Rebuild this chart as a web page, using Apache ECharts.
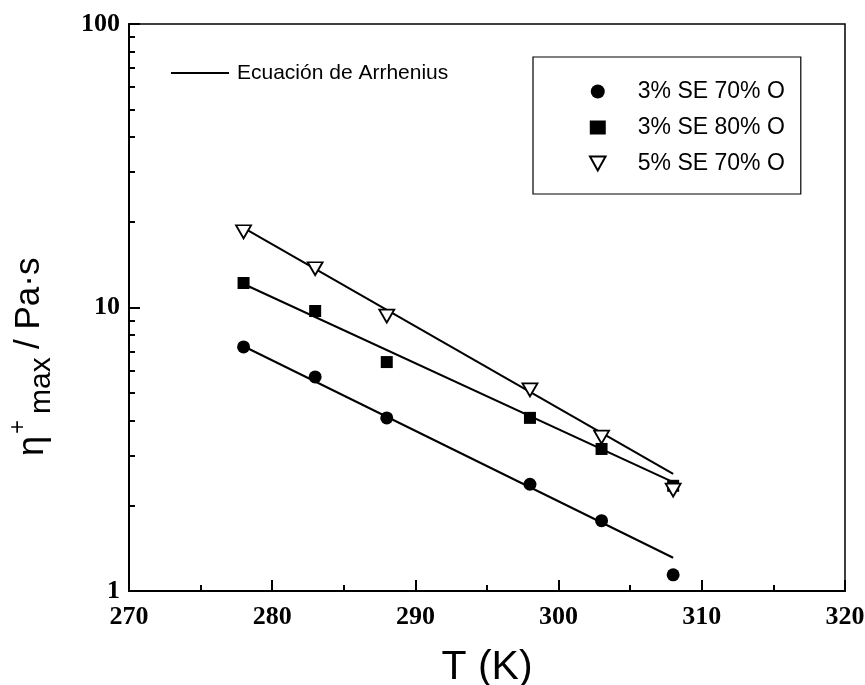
<!DOCTYPE html>
<html>
<head>
<meta charset="utf-8">
<script src="https://cdn.jsdelivr.net/npm/echarts@6/dist/echarts.min.js"></script>
<style>
  html, body { margin: 0; padding: 0; background: #fff; }
  #chart { width: 865px; height: 685px; }
</style>
</head>
<body>
<div id="chart"></div>
<script>
// temperatures (K) and maximum viscosity values (Pa·s)
var temps = [278, 283, 288, 298, 303, 308];
var eta3se70 = [7.26, 5.69, 4.08, 2.38, 1.77, 1.14];
var eta3se80 = [12.2, 9.72, 6.42, 4.08, 3.17, 2.35];
var eta5se70 = [18.5, 13.7, 9.33, 5.12, 3.49, 2.27];

// Arrhenius fit lines, end points
var fitT = [278, 308];
var fit3se70 = [7.3, 1.31];
var fit3se80 = [12.1, 2.42];
var fit5se70 = [19.1, 2.59];

var names = ['3% SE 70% O', '3% SE 80% O', '5% SE 70% O'];
var fitName = 'Ecuación de Arrhenius';
var minorLogTicks = [2, 3, 4, 5, 6, 7, 8, 9, 20, 30, 40, 50, 60, 70, 80, 90];

var sans = 'Liberation Sans';
var serif = 'Liberation Serif';
var triDown = 'path://M0,0 L10,0 L5,9 Z';

function pairs(xs, ys) {
    return xs.map(function (x, i) { return [x, ys[i]]; });
}

function fitSeries(ys) {
    return {
        name: fitName,
        type: 'line',
        data: pairs(fitT, ys),
        symbol: 'none',
        itemStyle: { color: '#000' },
        lineStyle: { color: '#000', width: 2 },
        z: 2,
        silent: true
    };
}

var chart = echarts.init(document.getElementById('chart'));
var option = {
    animation: false,
    backgroundColor: '#fff',
    grid: {
        left: 129, right: 20, top: 24, bottom: 94,
        containLabel: false,
        outerBoundsMode: 'none',
        show: true, borderColor: '#000', borderWidth: 1.5
    },
    legend: [{
        data: names,
        orient: 'vertical',
        left: 533, top: 57,
        padding: [23, 16, 19, 56],
        itemWidth: 16, itemHeight: 14, itemGap: 13,
        borderColor: '#000', borderWidth: 1.2,
        textStyle: { fontFamily: sans, fontSize: 23, color: '#000', lineHeight: 20, padding: [0, 0, 0, 27] },
        selectedMode: false
    }, {
        data: [fitName],
        left: 171, top: 62,
        padding: 0,
        icon: 'rect',
        itemWidth: 58, itemHeight: 2,
        textStyle: { fontFamily: sans, fontSize: 21, color: '#000', lineHeight: 22, padding: [0, 0, 0, 3] },
        selectedMode: false
    }],
    xAxis: {
        type: 'value',
        min: 270, max: 320, interval: 10,
        name: 'T (K)',
        nameLocation: 'middle',
        nameGap: 56,
        nameTextStyle: { fontFamily: sans, fontSize: 41, color: '#000' },
        axisLine: { lineStyle: { color: '#000', width: 2 } },
        axisTick: { inside: true, length: 11, lineStyle: { color: '#000', width: 2 } },
        minorTick: { show: true, splitNumber: 2, length: 6, lineStyle: { color: '#000', width: 2 } },
        axisLabel: { margin: 13, fontFamily: serif, fontWeight: 'bold', fontSize: 26, color: '#000' },
        splitLine: { show: false }
    },
    yAxis: [{
        type: 'log',
        logBase: 10,
        min: 1, max: 100,
        axisLine: { show: true, lineStyle: { color: '#000', width: 2 } },
        axisTick: { show: true, inside: true, length: 11, lineStyle: { color: '#000', width: 2 } },
        axisLabel: { margin: 9, fontFamily: serif, fontWeight: 'bold', fontSize: 26, color: '#000' },
        splitLine: { show: false }
    }, {
        type: 'log',
        logBase: 10,
        min: 1, max: 100,
        position: 'left',
        axisLine: { show: false },
        axisLabel: { show: false },
        axisTick: { show: true, inside: true, length: 6, customValues: minorLogTicks, lineStyle: { color: '#000', width: 2 } },
        splitLine: { show: false }
    }],
    graphic: [
        { type: 'text', x: 33, y: 456, rotation: Math.PI / 2,
          style: { text: 'η', fontFamily: sans, fontSize: 36, fill: '#000', align: 'left', verticalAlign: 'middle' } },
        { type: 'text', x: 18, y: 427, rotation: Math.PI / 2,
          style: { text: '+', fontFamily: sans, fontSize: 24, fill: '#000', align: 'center', verticalAlign: 'middle' } },
        { type: 'text', x: 42, y: 414, rotation: Math.PI / 2,
          style: { text: 'max', fontFamily: sans, fontSize: 30, fill: '#000', align: 'left', verticalAlign: 'middle' } },
        { type: 'text', x: 29, y: 349, rotation: Math.PI / 2,
          style: { text: '/ Pa·s', fontFamily: sans, fontSize: 35, fill: '#000', align: 'left', verticalAlign: 'middle' } }
    ],
    series: [
        fitSeries(fit3se70),
        fitSeries(fit3se80),
        fitSeries(fit5se70),
        {
            name: names[0], type: 'scatter', data: pairs(temps, eta3se70),
            symbol: 'circle', symbolSize: 13,
            itemStyle: { color: '#000', opacity: 1 }, z: 3
        },
        {
            name: names[1], type: 'scatter', data: pairs(temps, eta3se80),
            symbol: 'rect', symbolSize: 12,
            itemStyle: { color: '#000', opacity: 1 }, z: 3
        },
        {
            name: names[2], type: 'scatter', data: pairs(temps, eta5se70),
            symbol: triDown, symbolSize: [15, 13],
            itemStyle: { color: '#fff', borderColor: '#000', borderWidth: 1.8, opacity: 1 }, z: 4
        }
    ]
};
chart.setOption(option);
</script>
</body>
</html>
